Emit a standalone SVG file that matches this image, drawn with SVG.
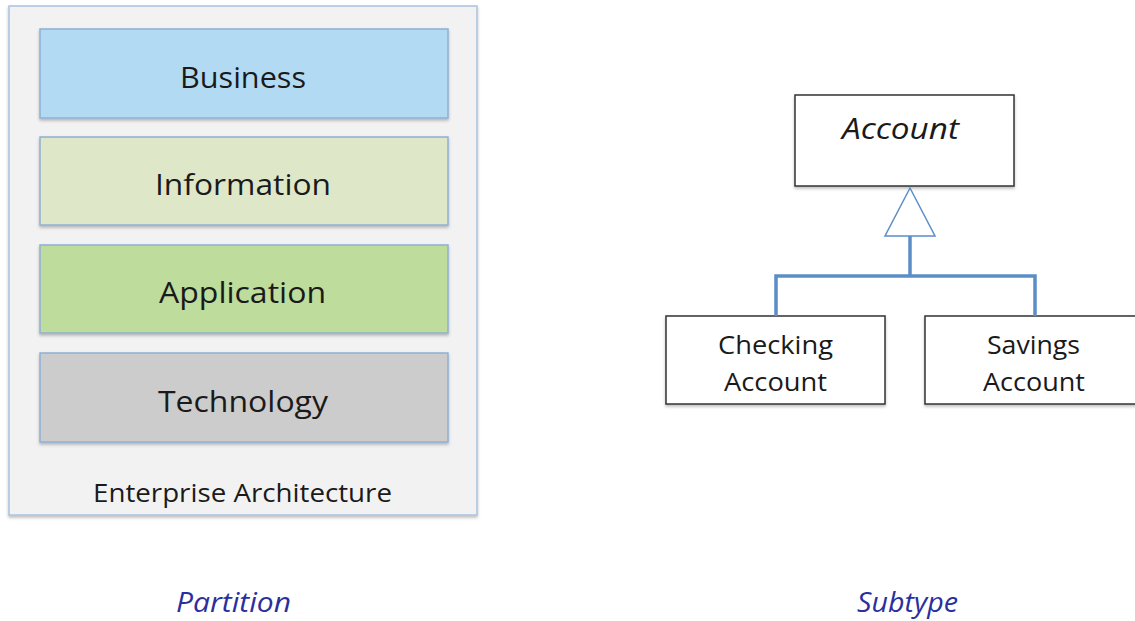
<svg xmlns="http://www.w3.org/2000/svg" width="1135" height="621" viewBox="0 0 1135 621">
  <style>
    .lbl { font-family: "Open Sans", "Noto Sans", sans-serif; fill: #1a1a1a; text-anchor: middle; }
    .band { stroke: #8fb0d4; stroke-width: 1.5; filter: url(#shadow); }
    .cls { fill: #ffffff; stroke: #333333; stroke-width: 1.5; filter: url(#shadow); }
    .conn { fill: none; stroke: #5b8ec6; stroke-width: 3.5; }
    .caption { font-family: "Open Sans", "Noto Sans", sans-serif; font-style: italic; fill: #2b2f9c; text-anchor: middle; font-size: 28px; }
  </style>
  <defs>
    <filter id="shadow" x="-5%" y="-10%" width="110%" height="130%">
      <feDropShadow dx="0" dy="2" stdDeviation="1.5" flood-color="#000000" flood-opacity="0.25"/>
    </filter>
  </defs>
  <rect width="1135" height="621" fill="#ffffff"/>

  <!-- Partition: enterprise architecture layers -->
  <g id="enterprise-architecture">
    <rect x="9" y="6" width="468" height="509" fill="#f2f2f2" stroke="#a9c4e0" stroke-width="1.5" filter="url(#shadow)"/>
    <text class="lbl" x="242.5" y="502" font-size="25" textLength="299" lengthAdjust="spacingAndGlyphs">Enterprise Architecture</text>
  </g>
  <g id="business">
    <rect class="band" x="40" y="29" width="408" height="89" fill="#b3daf3"/>
    <text class="lbl" x="243" y="88" font-size="30" textLength="126" lengthAdjust="spacingAndGlyphs">Business</text>
  </g>
  <g id="information">
    <rect class="band" x="40" y="137" width="408" height="88" fill="#dfe7c9"/>
    <text class="lbl" x="243" y="195" font-size="30" textLength="176" lengthAdjust="spacingAndGlyphs">Information</text>
  </g>
  <g id="application">
    <rect class="band" x="40" y="245" width="408" height="88" fill="#bedc9b"/>
    <text class="lbl" x="242.5" y="303" font-size="30" textLength="167" lengthAdjust="spacingAndGlyphs">Application</text>
  </g>
  <g id="technology">
    <rect class="band" x="40" y="353" width="408" height="89" fill="#cccccc"/>
    <text class="lbl" x="243" y="412" font-size="30" textLength="170" lengthAdjust="spacingAndGlyphs">Technology</text>
  </g>

  <!-- Subtype: generalization hierarchy -->
  <g id="account">
    <rect class="cls" x="795" y="95" width="219" height="91"/>
    <text class="lbl" x="900.5" y="139" font-size="30" font-style="italic" textLength="117" lengthAdjust="spacingAndGlyphs">Account</text>
  </g>
  <g id="checking-account">
    <rect class="cls" x="666" y="316" width="219" height="88"/>
    <text class="lbl" x="775.5" y="354" font-size="25" textLength="115" lengthAdjust="spacingAndGlyphs">Checking</text>
    <text class="lbl" x="775.5" y="391" font-size="25" textLength="103" lengthAdjust="spacingAndGlyphs">Account</text>
  </g>
  <g id="savings-account">
    <rect class="cls" x="925" y="316" width="219" height="88"/>
    <text class="lbl" x="1033.5" y="354" font-size="25" textLength="93" lengthAdjust="spacingAndGlyphs">Savings</text>
    <text class="lbl" x="1034" y="391" font-size="25" textLength="102" lengthAdjust="spacingAndGlyphs">Account</text>
  </g>

  <g id="connectors">
    <path class="conn" d="M910 236 V276"/>
    <path class="conn" d="M776 316 V276 H1035 V316" stroke-width="3"/>
    <polygon points="910,188 885,236 935,236" fill="#ffffff" stroke="#5b8ec6" stroke-width="1.5"/>
  </g>

  <g id="captions">
    <text class="caption" x="233.5" y="612" textLength="115" lengthAdjust="spacingAndGlyphs">Partition</text>
    <text class="caption" x="907.5" y="612" textLength="101" lengthAdjust="spacingAndGlyphs">Subtype</text>
  </g>
</svg>
